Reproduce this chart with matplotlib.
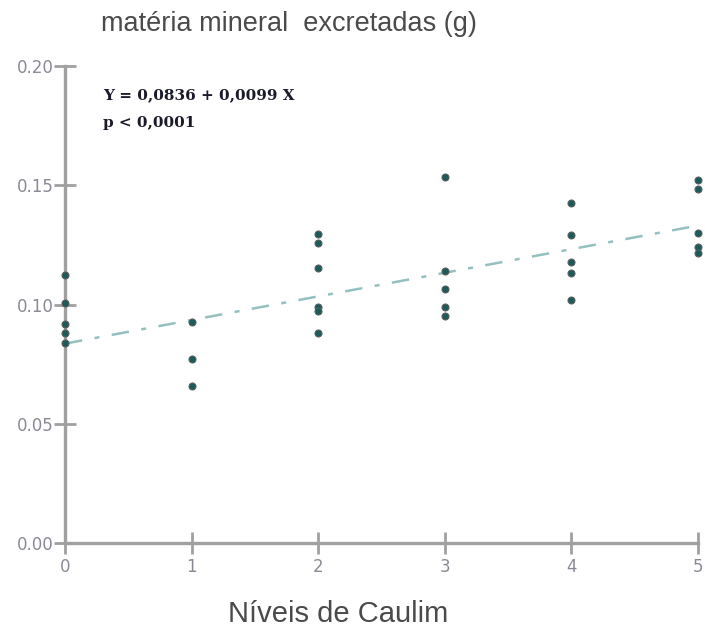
import matplotlib
matplotlib.use("Agg")
import matplotlib.pyplot as plt
import numpy as np

# data
x0 = [0, 0, 0, 0, 0]
y0 = [0.1124, 0.1005, 0.0918, 0.0879, 0.0840]
x1 = [1, 1, 1]
y1 = [0.0928, 0.0770, 0.0658]
x2 = [2, 2, 2, 2, 2, 2]
y2 = [0.1294, 0.1257, 0.1152, 0.0991, 0.0973, 0.0882]
x3 = [3, 3, 3, 3, 3]
y3 = [0.1536, 0.1142, 0.1064, 0.0991, 0.0953]
x4 = [4, 4, 4, 4, 4]
y4 = [0.1424, 0.1291, 0.1180, 0.1133, 0.1019]
x5 = [5, 5, 5, 5, 5]
y5 = [0.1522, 0.1483, 0.1298, 0.1243, 0.1217]
intercept = 0.0836
slope = 0.0099
xticks = [0, 1, 2, 3, 4, 5]
yticks = [0.00, 0.05, 0.10, 0.15, 0.20]

plt.rcParams['font.family'] = ['Liberation Sans', 'DejaVu Sans']
fig = plt.figure(figsize=(7.05, 6.32), dpi=100)
ax = fig.add_axes([65/705, 89/632, 633/705, 477/632])

xs = x0 + x1 + x2 + x3 + x4 + x5
ys = y0 + y1 + y2 + y3 + y4 + y5
ax.scatter(xs, ys, s=26, marker='o', color='#1d5a5a', edgecolors='#606060', linewidths=0.7,
           zorder=3, clip_on=False)

lx = np.array([0, 5])
ax.plot(lx, intercept + slope * lx, color='#94c0c0', lw=1.8, linestyle=(0, (7, 5, 2, 5)), zorder=2)

ax.set_xlim(0, 5)
ax.set_ylim(0, 0.20)
ax.set_xticks(xticks)
ax.set_yticks(yticks)
ax.set_yticklabels([f"{v:.2f}" for v in yticks])
for s in ['top', 'right']:
    ax.spines[s].set_visible(False)
for s in ['left', 'bottom']:
    ax.spines[s].set_color('#a0a0a0')
    ax.spines[s].set_linewidth(2.4)
ax.tick_params(axis='both', direction='inout', length=16, width=2, color='#a0a0a0',
               labelsize=12, labelcolor='#8a8a96')
for lab in ax.get_xticklabels() + ax.get_yticklabels():
    lab.set_family(['DejaVu Sans'])
ax.tick_params(axis='y', pad=0)
ax.tick_params(axis='x', pad=3)

fig.text(101/705, 1 - 24/632, "matéria mineral  excretadas (g)", fontsize=19.5, color='#4a4a4a',
         ha='left', va='center')
fig.text(338/705, 1 - 614/632, "Níveis de Caulim", fontsize=21, color='#4a4a4a',
         ha='center', va='center')
fig.text(103/705, 1 - 95/632, "Y = 0,0836 + 0,0099 X", fontsize=11, fontweight='bold',
         family=['DejaVu Serif'], color='#1a1a2a', ha='left', va='center')
fig.text(103/705, 1 - 123/632, "p < 0,0001", fontsize=11, fontweight='bold',
         family=['DejaVu Serif'], color='#1a1a2a', ha='left', va='center')

fig.savefig("out.png", dpi=100)
